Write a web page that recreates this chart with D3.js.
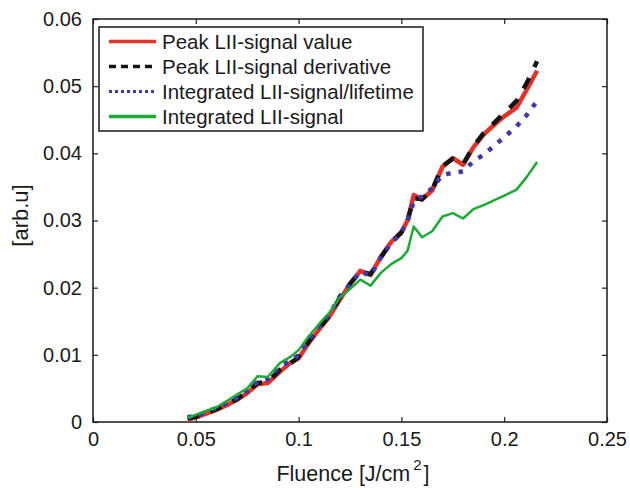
<!DOCTYPE html>
<html>
<head>
<meta charset="utf-8">
<script src="https://cdn.jsdelivr.net/npm/d3@7"></script>
<style>
  body { margin: 0; background: #fff; }
  text { font-family: "Liberation Sans", Arial, sans-serif; fill: #1a1a1a; }
</style>
</head>
<body>
<div id="chart"></div>
<script>
const fluence = [0.046, 0.052, 0.060, 0.065, 0.070, 0.075, 0.080, 0.085, 0.091, 0.096,
  0.100, 0.105, 0.110, 0.115, 0.120, 0.125, 0.130, 0.135, 0.140, 0.145,
  0.150, 0.153, 0.156, 0.160, 0.165, 0.170, 0.175, 0.180, 0.185, 0.190,
  0.195, 0.200, 0.206, 0.211, 0.216];

const peakValue = [0.0003, 0.0009, 0.0018, 0.0025, 0.0033, 0.0043, 0.0056, 0.0058, 0.0075, 0.0088,
  0.0095, 0.0118, 0.0138, 0.0157, 0.0182, 0.0205, 0.0225, 0.0219, 0.0246, 0.0268,
  0.0283, 0.0300, 0.0338, 0.0331, 0.0345, 0.0380, 0.0393, 0.0383, 0.0409, 0.0428,
  0.0442, 0.0455, 0.0468, 0.0495, 0.0523];

const peakDeriv = [0.0005, 0.0009, 0.0019, 0.0026, 0.0034, 0.0045, 0.0058, 0.0060, 0.0078, 0.0087,
  0.0097, 0.0120, 0.0140, 0.0158, 0.0185, 0.0206, 0.0224, 0.0220, 0.0245, 0.0267,
  0.0282, 0.0300, 0.0333, 0.0332, 0.0346, 0.0381, 0.0392, 0.0384, 0.0410, 0.0430,
  0.0445, 0.0460, 0.0478, 0.0505, 0.0537];

const integLifetime = [0.0007, 0.0011, 0.0021, 0.0028, 0.0036, 0.0046, 0.0060, 0.0064, 0.0084, 0.0090,
  0.0100, 0.0122, 0.0142, 0.0160, 0.0187, 0.0205, 0.0224, 0.0218, 0.0245, 0.0266,
  0.0282, 0.0300, 0.0328, 0.0336, 0.0348, 0.0368, 0.0371, 0.0373, 0.0388, 0.0398,
  0.0411, 0.0424, 0.0440, 0.0457, 0.0478];

const integSignal = [0.0006, 0.0013, 0.0022, 0.0031, 0.0041, 0.0050, 0.0068, 0.0067, 0.0088, 0.0097,
  0.0107, 0.0128, 0.0146, 0.0163, 0.0185, 0.0198, 0.0212, 0.0203, 0.0222, 0.0235,
  0.0244, 0.0255, 0.0291, 0.0275, 0.0284, 0.0306, 0.0311, 0.0303, 0.0317, 0.0323,
  0.0330, 0.0337, 0.0346, 0.0365, 0.0387];

const seriesNames = ["Peak LII-signal value", "Peak LII-signal derivative",
  "Integrated LII-signal/lifetime", "Integrated LII-signal"];
const xTicks = [0, 0.05, 0.1, 0.15, 0.2, 0.25];
const xTickLabels = ["0", "0.05", "0.1", "0.15", "0.2", "0.25"];
const yTicks = [0, 0.01, 0.02, 0.03, 0.04, 0.05, 0.06];
const yTickLabels = ["0", "0.01", "0.02", "0.03", "0.04", "0.05", "0.06"];

const w = 630, h = 488;
const m = {left: 93, right: 23, top: 19, bottom: 66};

const series = [
  {name: seriesNames[0], values: peakValue, color: "#e2322a", width: 4.5, dash: null, lw: 3.5, ldash: null},
  {name: seriesNames[1], values: peakDeriv, color: "#141414", width: 4.5, dash: "12,12", lw: 3.5, ldash: "7,5"},
  {name: seriesNames[2], values: integLifetime, color: "#3f38a8", width: 4.5, dash: "4.5,8", lw: 3, ldash: "3,3"},
  {name: seriesNames[3], values: integSignal, color: "#1aab35", width: 2.5, dash: null, lw: 3.5, ldash: null}
];

const svg = d3.select("#chart").append("svg")
  .attr("width", w)
  .attr("height", h);

svg.append("rect").attr("width", w).attr("height", h).attr("fill", "#fff");

const x = d3.scaleLinear().domain([0, 0.25]).range([m.left, w - m.right]);
const y = d3.scaleLinear().domain([0, 0.06]).range([h - m.bottom, m.top]);

// axes, ticks inside on all four sides
const axBottom = svg.append("g")
  .attr("transform", `translate(0,${h - m.bottom})`)
  .call(d3.axisBottom(x).tickValues(xTicks).tickSize(-5).tickPadding(10)
    .tickFormat((d, i) => xTickLabels[i]));
const axTop = svg.append("g")
  .attr("transform", `translate(0,${m.top})`)
  .call(d3.axisTop(x).tickValues(xTicks).tickSize(-5).tickFormat(""));
const axLeft = svg.append("g")
  .attr("transform", `translate(${m.left},0)`)
  .call(d3.axisLeft(y).tickValues(yTicks).tickSize(-5).tickPadding(11)
    .tickFormat((d, i) => yTickLabels[i]));
const axRight = svg.append("g")
  .attr("transform", `translate(${w - m.right},0)`)
  .call(d3.axisRight(y).tickValues(yTicks).tickSize(-5).tickFormat(""));

[axBottom, axTop, axLeft, axRight].forEach(g => {
  g.selectAll(".domain").remove();
  g.selectAll("line").attr("stroke", "#222").attr("stroke-width", 1.2);
  g.selectAll("text").attr("font-size", 20).attr("fill", "#1a1a1a")
    .attr("font-family", "Liberation Sans, Arial, sans-serif");
});

svg.append("rect")
  .attr("x", m.left).attr("y", m.top)
  .attr("width", w - m.left - m.right)
  .attr("height", h - m.top - m.bottom)
  .attr("fill", "none")
  .attr("stroke", "#1a1a1a")
  .attr("stroke-width", 1.5);

const line = d3.line()
  .x((d, i) => x(fluence[i]))
  .y(d => y(d));

series.forEach(s => {
  svg.append("path")
    .datum(s.values)
    .attr("d", line)
    .attr("fill", "none")
    .attr("stroke", s.color)
    .attr("stroke-width", s.width)
    .attr("stroke-dasharray", s.dash)
    .attr("stroke-linejoin", "round");
});

// legend
const legend = svg.append("g");
legend.append("rect")
  .attr("x", 99).attr("y", 27)
  .attr("width", 324).attr("height", 104)
  .attr("fill", "#fff")
  .attr("stroke", "#1a1a1a")
  .attr("stroke-width", 1.5);

series.forEach((s, i) => {
  const ly = 41.5 + i * 25;
  legend.append("line")
    .attr("x1", 109).attr("x2", 156)
    .attr("y1", ly).attr("y2", ly)
    .attr("stroke", s.color)
    .attr("stroke-width", s.lw)
    .attr("stroke-dasharray", s.ldash);
  legend.append("text")
    .attr("x", 162).attr("y", ly + 7)
    .attr("font-size", 20.5)
    .text(s.name);
});

// axis labels
const xl = svg.append("text")
  .attr("x", 353).attr("y", 481)
  .attr("text-anchor", "middle")
  .attr("font-size", 21.5);
xl.append("tspan").text("Fluence [J/cm");
xl.append("tspan").attr("dx", 3).attr("dy", -11).attr("font-size", 15).text("2");
xl.append("tspan").attr("dx", 2).attr("dy", 11).text("]");

svg.append("text")
  .attr("text-anchor", "middle")
  .attr("font-size", 22)
  .attr("transform", "translate(28,215.5) rotate(-90)")
  .text("[arb.u]");
</script>
</body>
</html>
